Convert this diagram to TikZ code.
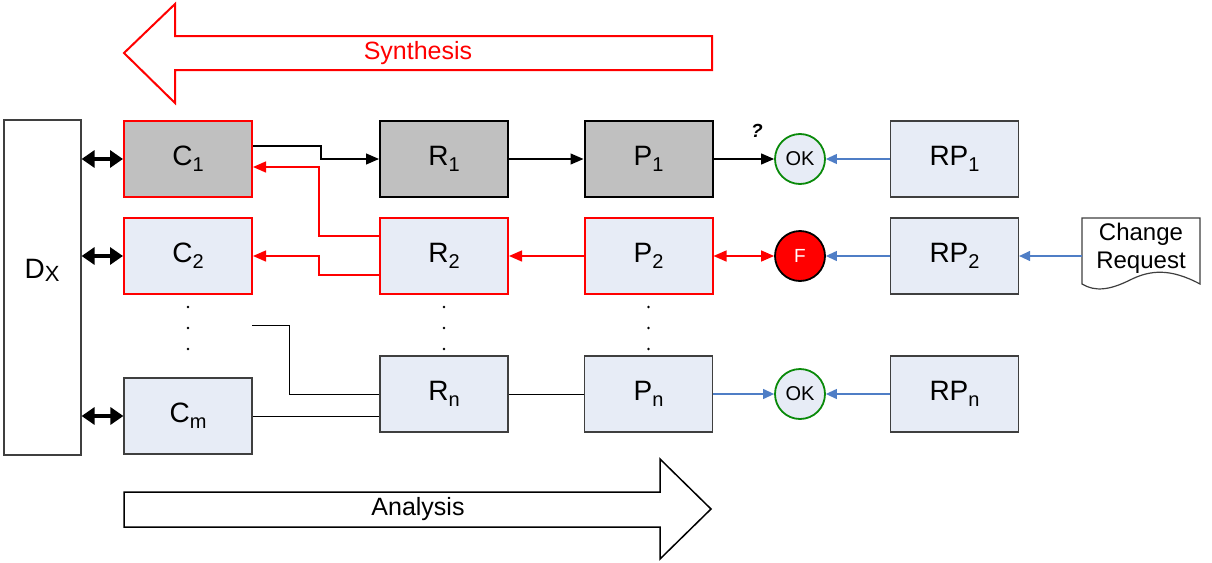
\documentclass[tikz,border=0pt]{standalone}
\usepackage{fontspec}
\setmainfont{Liberation Sans}
\usetikzlibrary{arrows.meta}
\definecolor{lb}{HTML}{E7ECF6}
\definecolor{gb}{HTML}{C0C0C0}
\definecolor{bl}{HTML}{4F7EC6}
\definecolor{bd}{HTML}{3F3F3F}
\definecolor{okg}{HTML}{0A8A0A}
\newcommand\sbs[1]{\raisebox{-6pt}{\fontsize{20}{20}\selectfont #1}}
\begin{document}
\begin{tikzpicture}[x=1pt,y=-1pt,
  box/.style={minimum width=128pt,minimum height=76pt,inner sep=0pt,
    font=\fontsize{28}{28}\selectfont,draw=bd,line width=1.2pt,fill=lb},
  redbox/.style={box,draw=red,line width=2pt},
  graybox/.style={box,fill=gb},
  blackbox/.style={graybox,draw=black,line width=2pt},
  okc/.style={circle,minimum size=50pt,inner sep=0pt,draw=okg,line width=1.8pt,fill=lb,
    font=\fontsize{20}{20}\selectfont},
  blk/.style={line width=1.2pt,-{Triangle[length=13pt,width=11pt]}},
  redar/.style={red,line width=1.4pt,-{Triangle[length=13pt,width=11pt]}},
  blu/.style={bl,line width=1.2pt,-{Triangle[length=11pt,width=10pt]}},
  dbl/.style={line width=3.8pt,{Triangle[length=13pt,width=17pt]}-{Triangle[length=13pt,width=17pt]}},
  thin/.style={line width=0.9pt},
  dot/.style={circle,fill=black,inner sep=0pt,minimum size=2.6pt},
  bigtxt/.style={font=\fontsize{25}{25}\selectfont}
]
\useasboundingbox (0,0) rectangle (1212,562);

% big arrows
\draw[red,line width=2pt,fill=white] (712,36) -- (175,36) -- (175,4) -- (124,53) -- (175,103) -- (175,70) -- (712,70) -- cycle;
\node[bigtxt,text=red] (syn) at (418,53) {Synthesis};
\draw[black,line width=1.5pt,fill=white] (124,492) -- (660,492) -- (660,459) -- (711,509) -- (660,559) -- (660,527) -- (124,527) -- cycle;
\node[bigtxt] (ana) at (418,509) {Analysis};

% Dx
\node[draw=bd,line width=1.2pt,fill=white,minimum width=77pt,minimum height=335pt,inner sep=0pt] (Dx) at (42.5,287.5) {};
\node[font=\fontsize{28}{28}\selectfont] (dxl) at (42,270) {D\raisebox{-3pt}{\fontsize{22}{22}\selectfont X}};

% boxes
\node[redbox,fill=gb] (C1) at (188,159) {C\sbs{1}};
\node[redbox] (C2) at (188,256) {C\sbs{2}};
\node[box] (Cm) at (188,416) {C\sbs{m}};
\node[blackbox] (R1) at (444,159) {R\sbs{1}};
\node[redbox] (R2) at (444,256) {R\sbs{2}};
\node[box] (Rn) at (444,394) {R\sbs{n}};
\node[blackbox] (P1) at (648.5,159) {P\sbs{1}};
\node[redbox] (P2) at (648.5,256) {P\sbs{2}};
\node[box] (Pn) at (648.5,394) {P\sbs{n}};
\node[box] (RP1) at (954.5,159) {RP\sbs{1}};
\node[box] (RP2) at (954.5,256) {RP\sbs{2}};
\node[box] (RPn) at (954.5,394) {RP\sbs{n}};

% circles
\node[okc] (OK1) at (800,159) {OK};
\node[okc,draw=black,fill=red,text=white,font=\fontsize{19}{19}\selectfont] (F) at (800,256) {F};
\node[okc] (OKn) at (800,394) {OK};

% change request
\draw[bd,line width=1.2pt,fill=white] (1082,218) -- (1200,218) -- (1200,284)
  .. controls (1170,268) and (1150,270) .. (1130,280)
  .. controls (1110,290) and (1095,292) .. (1082,284) -- cycle;
\node[font=\fontsize{24}{28}\selectfont,align=center] (cr) at (1141,248) {Change\\Request};
\coordinate (crw) at (1082,256);

% dots
\foreach \yy [count=\i] in {307,328,349}{
  \node[dot] (dc\i) at (188,\yy) {};
  \node[dot] (dr\i) at (444,\yy) {};
  \node[dot] (dp\i) at (648.5,\yy) {};
}

% double arrows
\draw[dbl] (Dx.east |- C1.west) -- (C1.west);
\draw[dbl] (Dx.east |- C2.west) -- (C2.west);
\draw[dbl] (Dx.east |- Cm.west) -- (Cm.west);

% row 1
\draw[blk] ([yshift=13pt]C1.east) -- ++(68,0) |- (R1.west);
\draw[blk] (R1) -- (P1);
\draw[blk] (P1) -- (OK1);
\node[font=\bfseries\itshape\fontsize{19}{19}\selectfont] (q) at (757,131) {?};
\draw[blu] (RP1) -- (OK1);

% row 2
\draw[redar] ([yshift=20pt]R2.west) -- ++(-60,0) |- ([yshift=-8pt]C1.east);
\draw[redar] ([yshift=-19pt]R2.west) -- ++(-60,0) |- (C2.east);
\draw[redar] (P2) -- (R2);
\draw[redar,{Triangle[length=13pt,width=11pt]}-{Triangle[length=13pt,width=11pt]}] (P2) -- (F);
\draw[blu] (RP2) -- (F);
\draw[blu] (crw) -- (RP2);

% row n
\coordinate (lst) at (252,325);
\draw[thin] (lst) -- (289,325) |- (Rn.west);
\draw[thin] (Cm.east) -- (Rn.west |- Cm.east);
\draw[thin] (Rn) -- (Pn);
\draw[blu] (Pn) -- (OKn);
\draw[blu] (RPn) -- (OKn);
\end{tikzpicture}
\end{document}
